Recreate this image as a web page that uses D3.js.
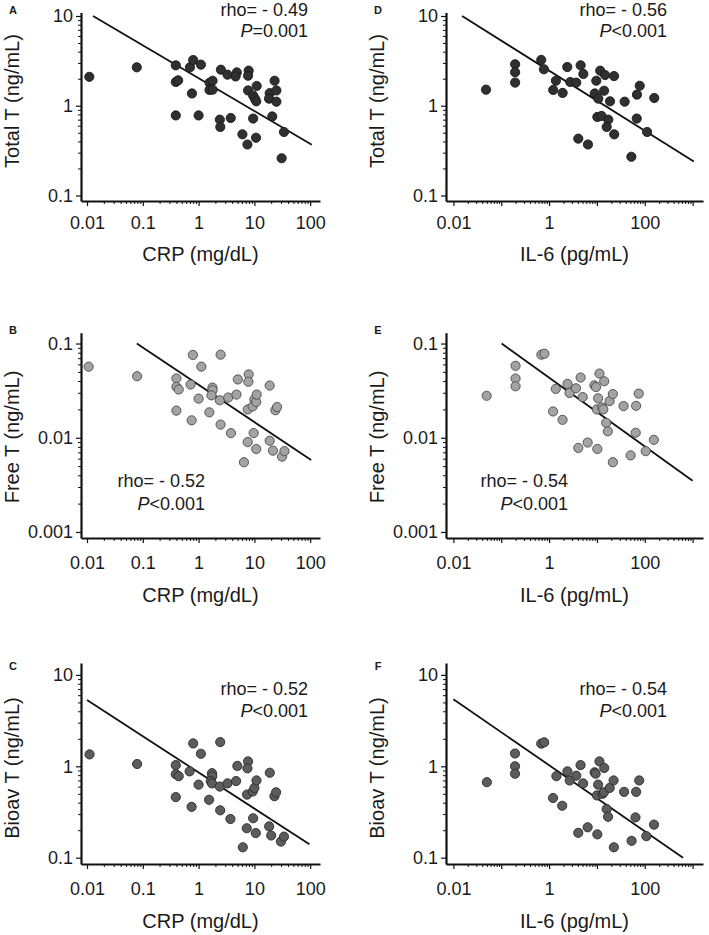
<!DOCTYPE html>
<html><head><meta charset="utf-8">
<script src="https://cdn.jsdelivr.net/npm/d3@7"></script>
<style>
body{margin:0;background:#fff}
svg text{font-family:Arial,"Liberation Sans",Helvetica,sans-serif;fill:#1a1a1a}
</style>
</head><body>
<svg id="chart" width="709" height="935"></svg>
<script>
// ---------------- data ----------------
const crpTotalX = [0.011,0.078,0.39,0.39,0.43,0.39,0.70,0.80,0.76,1.10,1.0,1.57,1.78,1.57,1.78,2.51,2.4,2.45,3.3,3.77,4.84,4.6,7.9,7.7,7.7,6.1,7.5,9.5,9.5,10.2,10.8,11.0,10.7,18.8,18.3,20.9,23.0,24.8,24.8,30.8,33.9];
const crpTotalY = [2.1,2.68,2.82,1.84,1.92,0.78,2.68,3.23,1.37,2.87,0.78,1.80,1.90,1.50,1.51,2.52,0.70,0.58,2.22,0.73,2.35,2.12,2.46,2.16,1.48,0.48,0.37,0.72,1.30,1.20,1.12,1.66,0.44,1.38,1.20,0.76,1.90,1.48,1.11,0.26,0.51];
const crpTotalFit = [[0.0128,10.0],[107,0.367]];

const il6TotalX = [0.048,0.195,0.195,0.195,0.685,0.78,1.39,1.22,1.92,2.4,2.77,3.7,4.57,5.2,4.08,6.5,9.7,9.0,10.7,10.2,11.7,12.5,14.8,14.1,17.3,16,18.8,22.8,23,38,52.5,68,68.7,78.5,112,158];
const il6TotalY = [1.51,2.9,2.36,1.81,3.24,2.55,1.90,1.50,1.39,2.70,1.84,1.81,2.82,2.26,0.43,0.37,1.90,1.37,1.20,0.75,2.46,0.77,2.2,1.47,0.70,0.58,1.12,2.14,0.48,1.11,0.27,0.72,1.33,1.67,0.51,1.22];
const il6TotalFit = [[0.0152,10.0],[1060,0.239]];

const crpFreeX = [0.0107,0.079,0.40,0.40,0.44,0.40,0.72,0.79,0.75,1.12,1.0,1.56,1.77,1.78,1.7,2.48,2.4,2.48,3.4,3.8,4.77,5.05,7.9,7.8,7.6,6.5,7.6,9.7,9.3,10,10.8,11,10.8,18.8,18.8,21.5,23.8,25.5,31.4,34.6];
const crpFreeY = [0.0568,0.045,0.0426,0.0347,0.0325,0.0194,0.0367,0.0757,0.0153,0.0568,0.026,0.0186,0.0341,0.032,0.0282,0.0762,0.025,0.0138,0.0267,0.0112,0.0287,0.0416,0.047,0.0393,0.020,0.0055,0.009,0.0112,0.0215,0.0254,0.024,0.0287,0.0076,0.0358,0.0093,0.0073,0.0196,0.0212,0.0063,0.0072];
const crpFreeFit = [[0.078,0.1],[104,0.0058]];

const il6FreeX = [0.0495,0.199,0.199,0.199,0.69,0.80,1.38,1.21,1.91,2.43,2.68,3.64,4.57,5.04,4.08,6.4,8.85,9.6,11.3,10.6,10.0,10.2,14.2,12.9,13.6,15.6,16.9,18.4,21.5,21.5,36,50.7,64.7,66,74.8,105,155];
const il6FreeY = [0.0279,0.058,0.0425,0.0352,0.0762,0.078,0.033,0.019,0.0155,0.0373,0.0299,0.0335,0.0436,0.027,0.0078,0.0089,0.036,0.0345,0.048,0.0262,0.020,0.0076,0.0398,0.021,0.020,0.0144,0.0117,0.0245,0.0291,0.0055,0.0217,0.0065,0.0113,0.0218,0.0294,0.0072,0.0095];
const il6FreeFit = [[0.102,0.1],[1000,0.0035]];

const crpBioX = [0.0111,0.079,0.39,0.39,0.44,0.39,0.69,0.80,0.75,1.10,1.0,1.54,1.74,1.76,1.65,1.74,2.44,2.4,2.44,3.3,3.72,4.7,4.95,7.7,7.5,7.4,7.3,9.35,9.5,10.0,10.9,10.6,18.9,18.4,20,22.9,24.5,6.2,29.9,33.9];
const crpBioY = [1.35,1.06,1.03,0.82,0.78,0.46,0.88,1.78,0.36,1.37,0.63,0.43,0.84,0.78,0.69,0.65,1.84,0.60,0.33,0.65,0.265,0.69,1.01,1.13,0.95,0.49,0.21,0.53,0.27,0.58,0.70,0.186,0.85,0.22,0.175,0.47,0.52,0.13,0.15,0.17];
const crpBioFit = [[0.01,5.3],[97,0.14]];

const il6BioX = [0.05,0.194,0.194,0.194,0.685,0.79,1.42,1.21,1.88,2.42,2.7,3.7,4.55,5.15,4.07,6.4,8.95,9.4,11.3,10.6,10.0,10.2,14.2,13.1,14.0,16,17.1,18.5,22.3,22.6,37,53,64,66,76.5,108,156];
const il6BioY = [0.67,1.38,1.0,0.83,1.77,1.83,0.78,0.45,0.37,0.88,0.70,0.79,1.03,0.65,0.187,0.215,0.86,0.83,1.13,0.63,0.48,0.18,0.96,0.50,0.52,0.34,0.28,0.58,0.70,0.13,0.525,0.153,0.276,0.525,0.70,0.172,0.23];
const il6BioFit = [[0.01,5.43],[631,0.1]];

const crpTicks = [0.01,0.1,1,10,100];
const crpTickLabels = ["0.01","0.1","1","10","100"];
const il6Ticks = [0.01,0.1,1,10,100,1000];
const il6TickLabels = ["0.01","","1","","100",""];
const totalTicks = [0.1,1,10];
const totalTickLabels = ["0.1","1","10"];
const freeTicks = [0.001,0.01,0.1];
const freeTickLabels = ["0.001","0.01","0.1"];
const bioTicks = [0.1,1,10];
const bioTickLabels = ["0.1","1","10"];

const panels = [
  {id:"A", xs:crpTotalX, ys:crpTotalY, fit:crpTotalFit, rho:"rho= - 0.49", p:"=0.001", xt:"CRP (mg/dL)", yt:"Total T (ng/mL)"},
  {id:"D", xs:il6TotalX, ys:il6TotalY, fit:il6TotalFit, rho:"rho= - 0.56", p:"<0.001", xt:"IL-6 (pg/mL)", yt:"Total T (ng/mL)"},
  {id:"B", xs:crpFreeX, ys:crpFreeY, fit:crpFreeFit, rho:"rho= - 0.52", p:"<0.001", xt:"CRP (mg/dL)", yt:"Free T (ng/mL)"},
  {id:"E", xs:il6FreeX, ys:il6FreeY, fit:il6FreeFit, rho:"rho= - 0.54", p:"<0.001", xt:"IL-6 (pg/mL)", yt:"Free T (ng/mL)"},
  {id:"C", xs:crpBioX, ys:crpBioY, fit:crpBioFit, rho:"rho= - 0.52", p:"<0.001", xt:"CRP (mg/dL)", yt:"Bioav T (ng/mL)"},
  {id:"F", xs:il6BioX, ys:il6BioY, fit:il6BioFit, rho:"rho= - 0.54", p:"<0.001", xt:"IL-6 (pg/mL)", yt:"Bioav T (ng/mL)"}
];

// ---------------- layout ----------------
const cols = [
  {x0:81, x1:320, dom:[0.0078,150], ticks:crpTicks, labels:crpTickLabels, ytx:19, lab:13, rhoRight:308},
  {x0:446, x1:703, dom:[0.007,1650], ticks:il6Ticks, labels:il6TickLabels, ytx:384, lab:378, rhoRight:667}
];
const rows = [
  {top:12.5, bot:201, dom:[0.0868,10.94], ticks:totalTicks, labels:totalTickLabels, tickGap:15, ytc:101, labY:14, txt:"topRight", r1:15.7, r2:36.7, fill:"#303030", stroke:"#1a1a1a"},
  {top:332.7, bot:538, dom:[0.000863,0.1303], ticks:freeTicks, labels:freeTickLabels, tickGap:18.5, ytc:437, labY:334, txt:"bottomLeft", r1:487.3, r2:510, fill:"#a3a3a3", stroke:"#4a4a4a"},
  {top:663, bot:864, dom:[0.0853,13.5], ticks:bioTicks, labels:bioTickLabels, tickGap:18.5, ytc:768, labY:670, txt:"topRight", r1:695, r2:717.3, fill:"#5c5c5c", stroke:"#2a2a2a"}
];

const svg = d3.select("#chart");

function minorTicks(majors){
  const out=[];
  const lo=d3.min(majors), hi=d3.max(majors);
  majors.forEach(m=>{ for(let k=2;k<=9;k++){ const v=m*k; if(v<hi*0.999) out.push(v);} });
  return out.filter(v=>v>lo);
}

panels.forEach((pn,i)=>{
  const col = cols[i%2], row = rows[Math.floor(i/2)];
  const x = d3.scaleLog().domain(col.dom).range([col.x0,col.x1]);
  const y = d3.scaleLog().domain(row.dom).range([row.bot,row.top]);
  const g = svg.append("g");

  // x axis
  const xa = g.append("g").attr("transform",`translate(0,${row.bot})`)
    .call(d3.axisBottom(x).tickValues(col.ticks).tickSize(5).tickSizeOuter(0)
      .tickFormat((d,j)=>col.labels[j]).tickPadding(row.tickGap-5));
  xa.select(".domain").attr("stroke","#111").attr("stroke-width",2.2);
  xa.selectAll(".tick line").attr("stroke","#111").attr("stroke-width",1.2);
  xa.selectAll(".tick text").attr("font-size",18).attr("fill","#1a1a1a");
  const xm = g.append("g").attr("transform",`translate(0,${row.bot})`)
    .call(d3.axisBottom(x).tickValues(minorTicks(col.ticks)).tickSize(3).tickFormat(""));
  xm.select(".domain").remove();
  xm.selectAll(".tick line").attr("stroke","#111").attr("stroke-width",1);

  // y axis
  const ya = g.append("g").attr("transform",`translate(${col.x0},0)`)
    .call(d3.axisLeft(y).tickValues(row.ticks).tickSize(5).tickSizeOuter(0)
      .tickFormat((d,j)=>row.labels[j]).tickPadding(3));
  ya.select(".domain").attr("stroke","#111").attr("stroke-width",2.2);
  ya.selectAll(".tick line").attr("stroke","#111").attr("stroke-width",1.2);
  ya.selectAll(".tick text").attr("font-size",18).attr("fill","#1a1a1a");
  const ym = g.append("g").attr("transform",`translate(${col.x0},0)`)
    .call(d3.axisLeft(y).tickValues(minorTicks(row.ticks)).tickSize(3).tickFormat(""));
  ym.select(".domain").remove();
  ym.selectAll(".tick line").attr("stroke","#111").attr("stroke-width",1);

  // axis titles
  g.append("text").attr("x",(col.x0+col.x1)/2).attr("y",row.bot+row.tickGap+45)
    .attr("text-anchor","middle").attr("font-size",20).text(pn.xt);
  g.append("text").attr("transform",`translate(${col.ytx},${row.ytc}) rotate(-90)`)
    .attr("text-anchor","middle").attr("font-size",20).text(pn.yt);

  // panel letter
  g.append("text").attr("x",col.lab).attr("y",row.labY).attr("text-anchor","middle")
    .attr("font-size",11).attr("font-weight","bold").text(pn.id);

  // fit line
  g.append("line")
    .attr("x1",x(pn.fit[0][0])).attr("y1",y(pn.fit[0][1]))
    .attr("x2",x(pn.fit[1][0])).attr("y2",y(pn.fit[1][1]))
    .attr("stroke","#111").attr("stroke-width",1.8);

  // points
  g.selectAll("circle.pt").data(pn.xs.map((v,j)=>[v,pn.ys[j]])).join("circle")
    .attr("class","pt").attr("cx",d=>x(d[0])).attr("cy",d=>y(d[1])).attr("r",4.6)
    .attr("fill",row.fill).attr("stroke",row.stroke).attr("stroke-width",0.9);

  // stats text
  let tx, anchor;
  if(row.txt==="topRight"){ tx = col.rhoRight; }
  else { tx = (i%2===0) ? 205 : 568; }
  const t1 = g.append("text").attr("x",tx).attr("y",row.r1).attr("text-anchor","end").attr("font-size",18).text(pn.rho);
  const t2 = g.append("text").attr("x",tx).attr("y",row.r2).attr("text-anchor","end").attr("font-size",18);
  t2.append("tspan").attr("font-style","italic").text("P");
  t2.append("tspan").text(pn.p);
});
</script>
</body></html>
